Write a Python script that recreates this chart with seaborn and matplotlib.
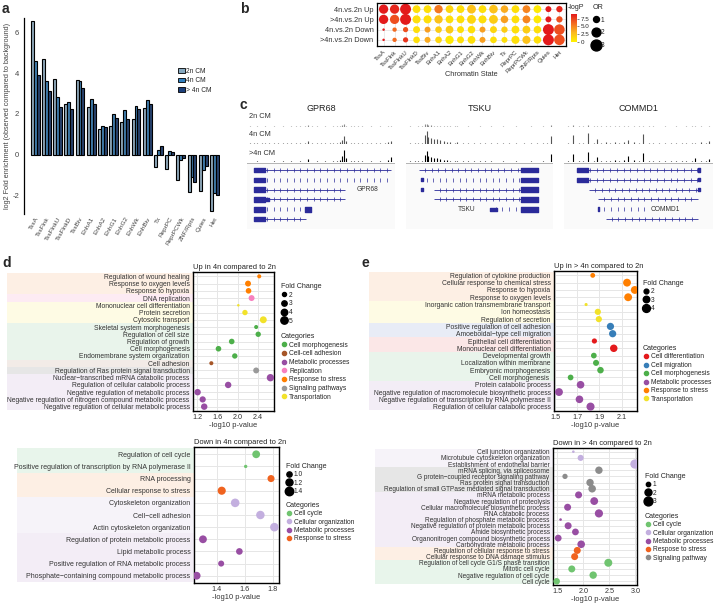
import numpy as np
import pandas as pd
import matplotlib
matplotlib.use("Agg")
import matplotlib.pyplot as plt
from matplotlib.colors import LinearSegmentedColormap, Normalize
from matplotlib.cm import ScalarMappable
from matplotlib.lines import Line2D
from matplotlib.patches import Patch
import seaborn as sns

sns.set_theme(style="white")
plt.rcParams['font.family'] = ['Liberation Sans', 'DejaVu Sans']

# ---------------- data ----------------
# a: chromatin state enrichment
states = ["TssA", "TssFlnk", "TssFlnkU", "TssFlnkD", "TssBiv", "EnhA1", "EnhA2", "EnhG1",
          "EnhG2", "EnhWk", "EnhBiv", "Tx", "ReprPC", "ReprPCWk", "ZNF/Rpts", "Quies", "Het"]
enrich_2n = [6.55, 4.68, 3.71, 2.5, 3.64, 2.36, 1.25, 1.41, 1.63, 1.76, 2.28, -0.62, -0.68, -1.25, -1.82, -1.76, -2.75]
enrich_4n = [4.6, 3.61, 2.85, 2.6, 3.63, 2.75, 1.41, 2.0, 2.2, 2.4, 2.67, 0.24, 0.21, -0.24, -1.07, -0.76, -1.87]
enrich_g4n = [3.89, 3.14, 2.36, 2.23, 3.28, 2.49, 1.38, 1.82, 1.77, 2.24, 2.47, 0.41, 0.16, -0.16, -1.33, -0.54, -1.97]
groups_a = ["2n CM", "4n CM", "> 4n CM"]

# b: DEG overlap with chromatin states
comparisons = ["4n.vs.2n Up", ">4n.vs.2n Up", "4n.vs.2n Down", ">4n.vs.2n Down"]
logp_up4 = [9, 8.5, 9, 1, 1, 5.5, 1.5, 1, 2.5, 1, 2.5, 3.5, 1, 5, 0.5, 9, 8.5]
logp_upg4 = [9, 7, 9, 1, 1, 2.5, 1, 1, 1.5, 1, 2, 4, 1, 5, 0.5, 9, 7]
logp_dn4 = [9, 6, 7, 1, 4, 2, 2, 1, 1, 4, 1.5, 2, 1, 2, 1, 9, 7]
logp_dng4 = [9, 6, 8, 1, 3.5, 1.5, 0.5, 1, 1, 4, 1, 1, 1, 2.5, 1, 9, 7]
or_up4 = [2.2, 2.2, 3.0, 1.6, 1.6, 1.8, 1.6, 1.6, 2.0, 1.6, 1.9, 1.5, 1.6, 1.6, 1.6, 1.0, 1.1]
or_upg4 = [2.2, 2.2, 3.0, 1.7, 1.7, 1.8, 1.6, 1.6, 2.0, 1.7, 2.0, 1.5, 1.6, 1.6, 1.6, 1.0, 1.1]
or_dn4 = [0.3, 0.6, 0.8, 1.3, 1.0, 1.2, 1.6, 1.3, 1.5, 1.0, 1.3, 1.1, 1.6, 1.6, 1.5, 3.0, 2.8]
or_dng4 = [0.3, 0.6, 0.8, 1.2, 1.0, 1.2, 1.8, 1.3, 1.6, 1.0, 1.2, 1.0, 1.7, 1.7, 1.5, 3.0, 2.8]

# c: browser tracks (positions are fractions of the locus window)
gpr68_pos = [0.02, 0.05, 0.07, 0.1, 0.12, 0.15, 0.18, 0.21, 0.24, 0.27, 0.3, 0.33, 0.36, 0.39, 0.41, 0.44, 0.47,
             0.5, 0.53, 0.56, 0.58, 0.61, 0.63, 0.645, 0.655, 0.67, 0.7, 0.72, 0.75, 0.78, 0.81, 0.84, 0.87, 0.9,
             0.93, 0.95, 0.975]
gpr68_2n = [0.04, 0.03, 0.05, 0.03, 0.04, 0.03, 0.05, 0.03, 0.04, 0.03, 0.05, 0.04, 0.06, 0.04, 0.12, 0.04, 0.05,
            0.03, 0.04, 0.03, 0.06, 0.04, 0.08, 0.12, 0.2, 0.08, 0.04, 0.05, 0.04, 0.06, 0.03, 0.05, 0.03, 0.04,
            0.03, 0.06, 0.1]
gpr68_4n = [0.05, 0.04, 0.06, 0.04, 0.05, 0.04, 0.06, 0.04, 0.05, 0.04, 0.06, 0.05, 0.07, 0.05, 0.22, 0.05, 0.06,
            0.04, 0.05, 0.04, 0.08, 0.05, 0.15, 0.3, 0.6, 0.2, 0.06, 0.08, 0.05, 0.1, 0.04, 0.06, 0.04, 0.05,
            0.04, 0.12, 0.25]
gpr68_g4n = [0.04, 0.03, 0.05, 0.03, 0.04, 0.03, 0.05, 0.03, 0.05, 0.04, 0.05, 0.04, 0.06, 0.04, 0.25, 0.04, 0.06,
             0.03, 0.05, 0.04, 0.1, 0.06, 0.2, 0.5, 1.0, 0.3, 0.06, 0.08, 0.05, 0.12, 0.04, 0.06, 0.04, 0.05,
             0.04, 0.15, 0.4]
tsku_pos = [0.03, 0.06, 0.08, 0.11, 0.13, 0.14, 0.15, 0.17, 0.19, 0.21, 0.23, 0.26, 0.28, 0.3, 0.33, 0.35, 0.39,
            0.42, 0.46, 0.5, 0.54, 0.58, 0.62, 0.66, 0.7, 0.75, 0.8, 0.85, 0.89, 0.93, 0.96, 0.985]
tsku_2n = [0.04, 0.03, 0.05, 0.04, 0.2, 0.25, 0.15, 0.12, 0.1, 0.1, 0.08, 0.06, 0.05, 0.05, 0.04, 0.06, 0.03,
           0.04, 0.03, 0.05, 0.03, 0.04, 0.03, 0.05, 0.03, 0.04, 0.03, 0.05, 0.03, 0.04, 0.03, 0.15]
tsku_4n = [0.08, 0.06, 0.1, 0.08, 0.7, 1.0, 0.5, 0.45, 0.4, 0.35, 0.3, 0.2, 0.18, 0.15, 0.1, 0.12, 0.07,
           0.08, 0.06, 0.1, 0.06, 0.07, 0.05, 0.1, 0.05, 0.06, 0.05, 0.08, 0.05, 0.06, 0.05, 0.6]
tsku_g4n = [0.06, 0.05, 0.08, 0.07, 0.6, 0.9, 0.45, 0.4, 0.35, 0.35, 0.25, 0.18, 0.15, 0.12, 0.08, 0.1, 0.06,
            0.06, 0.05, 0.08, 0.05, 0.06, 0.04, 0.08, 0.04, 0.05, 0.04, 0.06, 0.04, 0.05, 0.04, 0.65]
commd1_pos = [0.03, 0.06, 0.1, 0.13, 0.16, 0.2, 0.22, 0.25, 0.28, 0.31, 0.34, 0.37, 0.4, 0.43, 0.47, 0.5, 0.53,
              0.57, 0.6, 0.64, 0.68, 0.72, 0.75, 0.79, 0.82, 0.86, 0.88, 0.92, 0.95, 0.97]
commd1_2n = [0.06, 0.15, 0.05, 0.04, 0.12, 0.06, 0.05, 0.04, 0.05, 0.04, 0.05, 0.04, 0.06, 0.07, 0.05, 0.05, 0.1,
             0.04, 0.04, 0.03, 0.05, 0.03, 0.04, 0.03, 0.05, 0.04, 0.05, 0.04, 0.03, 0.05]
commd1_4n = [0.1, 0.7, 0.08, 0.06, 0.85, 0.1, 0.35, 0.1, 0.15, 0.08, 0.12, 0.1, 0.15, 0.3, 0.12, 0.1, 0.75,
             0.06, 0.08, 0.05, 0.1, 0.05, 0.06, 0.05, 0.08, 0.06, 0.1, 0.12, 0.05, 0.2]
commd1_g4n = [0.1, 0.65, 0.08, 0.06, 0.8, 0.1, 0.4, 0.1, 0.12, 0.08, 0.15, 0.12, 0.2, 0.45, 0.15, 0.12, 0.75,
              0.08, 0.1, 0.06, 0.12, 0.06, 0.08, 0.06, 0.1, 0.08, 0.3, 0.08, 0.06, 0.25]

# d: GO terms, up in 4n vs 2n
d_up_terms = ["Regulation of wound healing", "Response to oxygen levels", "Response to hypoxia", "DNA replication",
              "Mononuclear cell differentiation", "Protein secretion", "Cytosolic transport",
              "Skeletal system morphogenesis", "Regulation of cell size", "Regulation of growth",
              "Cell morphogenesis", "Endomembrane system organization", "Cell adhesion",
              "Regulation of Ras protein signal transduction", "Nuclear\u2212transcribed mRNA catabolic process",
              "Regulation of cellular catabolic process", "Negative regulation of metabolic process",
              "Negative regulation of nitrogen compound metabolic process",
              "Negative regulation of cellular metabolic process"]
d_up_cats = ["Response to stress", "Response to stress", "Response to stress", "Replication",
             "Transportation", "Transportation", "Transportation",
             "Cell morphogenesis", "Cell morphogenesis", "Cell morphogenesis", "Cell morphogenesis",
             "Cell morphogenesis", "Cell-cell adhesion", "Signaling pathways",
             "Metabolic processes", "Metabolic processes", "Metabolic processes", "Metabolic processes",
             "Metabolic processes"]
d_up_logp = [2.42, 2.2, 2.21, 2.27, 2.01, 2.14, 2.5, 2.36, 2.4, 1.88, 1.62, 1.94, 1.48, 2.36, 2.64, 1.81, 1.21, 1.31, 1.34]
d_up_fc = [2.0, 3.5, 3.2, 3.5, 1.2, 3.0, 4.5, 2.0, 3.0, 3.2, 3.2, 3.0, 2.0, 3.5, 5.0, 4.0, 4.0, 3.8, 4.0]

# d: GO terms, down in 4n vs 2n
d_dn_terms = ["Regulation of cell cycle", "Positive regulation of transcription by RNA polymerase II",
              "RNA processing", "Cellular response to stress", "Cytoskeleton organization",
              "Cell\u2212cell adhesion", "Actin cytoskeleton organization",
              "Regulation of protein metabolic process", "Lipid metabolic process",
              "Positive regulation of RNA metabolic process",
              "Phosphate\u2212containing compound metabolic process"]
d_dn_cats = ["Cell cycle", "Cell cycle", "Response to stress", "Response to stress",
             "Cellular organization", "Cellular organization", "Cellular organization",
             "Metabolic processes", "Metabolic processes", "Metabolic processes", "Metabolic processes"]
d_dn_logp = [1.68, 1.605, 1.786, 1.434, 1.53, 1.71, 1.81, 1.30, 1.56, 1.43, 1.255]
d_dn_fc = [1.3, 0.85, 1.2, 1.35, 1.42, 1.4, 1.42, 1.3, 1.15, 1.08, 1.3]

# e: GO terms, up in >4n vs 2n
e_up_terms = ["Regulation of cytokine production", "Cellular response to chemical stress", "Response to hypoxia",
              "Response to oxygen levels", "Inorganic cation transmembrane transport", "Ion homeostasis",
              "Regulation of secretion", "Positive regulation of cell adhesion",
              "Amoeboidal\u2212type cell migration", "Epithelial cell differentiation",
              "Mononuclear cell differentiation", "Developmental growth", "Localization within membrane",
              "Embryonic morphogenesis", "Cell morphogenesis ", "Protein catabolic process",
              "Negative regulation of macromolecule biosynthetic process",
              "Negative regulation of transcription by RNA polymerase II",
              "Regulation of cellular catabolic process"]
e_up_cats = ["Response to stress"] * 4 + ["Transportation"] * 3 + ["Cell migration"] * 2 + \
            ["Cell differentiation"] * 2 + ["Cell morphogenesis"] * 4 + ["Metabolic processes"] * 4
e_up_logp = [1.84, 2.15, 2.22, 2.16, 1.78, 1.886, 1.895, 2.0, 2.02, 1.855, 2.03, 1.85, 1.87, 1.91, 1.64, 1.73, 1.535, 1.72, 1.82]
e_up_fc = [2.0, 4.0, 4.0, 4.0, 1.3, 2.8, 2.8, 3.5, 3.5, 2.2, 3.7, 2.5, 2.7, 3.0, 2.5, 3.8, 4.0, 3.8, 4.2]

# e: GO terms, down in >4n vs 2n
e_dn_terms = ["Cell junction organization", "Microtubule cytoskeleton organization",
              "Establishment of endothelial barrier", "mRNA splicing, via spliceosome",
              "G protein\u2212coupled receptor signaling pathway", "Ras protein signal transduction",
              "Regulation of small GTPase mediated signal transduction", "mRNA metabolic process",
              "Negative regulation of proteolysis", "Cellular macromolecule biosynthetic process",
              "RNA catabolic process", "Regulation of phosphate metabolic process",
              "Negative regulation of protein metabolic process", "Amide biosynthetic process",
              "Organonitrogen compound biosynthetic process", "Carbohydrate metabolic process",
              "Regulation of cellular response to stress", "Cellular response to DNA damage stimulus",
              "Regulation of cell cycle G1/S phase transition", "Mitotic cell cycle",
              "Negative regulation of cell cycle", "Cell cycle"]
e_dn_cats = ["Cellular organization"] * 3 + ["Signaling pathway"] * 4 + ["Metabolic processes"] * 9 + \
            ["Respose to stress"] * 2 + ["Cell cycle"] * 4
e_dn_logp = [1.81, 1.95, 2.99, 2.30, 1.65, 2.13, 2.17, 1.91, 2.21, 1.70, 2.30, 1.565, 1.71, 1.85, 1.52, 1.96, 1.885, 1.835, 2.48, 1.78, 2.19, 1.49]
e_dn_fc = [0.6, 1.6, 3.2, 2.2, 1.3, 2.2, 2.3, 2.0, 2.4, 2.0, 2.6, 0.6, 2.0, 1.9, 1.9, 2.3, 2.0, 2.0, 2.5, 2.0, 2.2, 1.8]

# ---------------- styling ----------------
band_colors = {"Response to stress": "#fdefe4", "Respose to stress": "#fdefe4", "Replication": "#fdebf3",
               "Transportation": "#fefbe4", "Cell morphogenesis": "#e9f4eb", "Cell-cell adhesion": "#f2ebe7",
               "Signaling pathways": "#e6e6e6", "Signaling pathway": "#e6e6e6",
               "Metabolic processes": "#f3edf6", "Cell differentiation": "#fbe7e7",
               "Cell migration": "#e8ecf6", "Cell cycle": "#e8f5eb", "Cellular organization": "#f6f3f9"}
pal_set1 = {"Cell differentiation": "#e41a1c", "Cell migration": "#377eb8", "Cell morphogenesis": "#4daf4a",
            "Cell-cell adhesion": "#a65628", "Metabolic processes": "#984ea3", "Replication": "#f781bf",
            "Response to stress": "#ff7f00", "Signaling pathways": "#999999", "Transportation": "#f2e22a"}
pal_down = {"Cell cycle": "#70c470", "Cellular organization": "#c3afdf", "Metabolic processes": "#984ea3",
            "Response to stress": "#f0631f", "Respose to stress": "#f0631f", "Signaling pathway": "#8c8c8c"}

W, H = 720, 604
fig = plt.figure(figsize=(7.2, 6.04), dpi=100)


def px_axes(l, t, r, b):
    return fig.add_axes([l / W, 1 - b / H, (r - l) / W, (b - t) / H])


def fig_legend(handles, labels, title, x, y, fs=5.0, spacing=0.25):
    leg = fig.legend(handles, labels, title=title, loc="upper left",
                     bbox_to_anchor=(x / W, 1 - y / H), frameon=False, fontsize=fs,
                     title_fontsize=fs + 0.3, handletextpad=0.2, labelspacing=spacing,
                     borderpad=0, borderaxespad=0, alignment="left", handlelength=1.0)
    return leg


def panel_label(x, y, s):
    fig.text(x / W, 1 - y / H, s, fontsize=10, fontweight="bold", va="top", ha="left")


# ---------------- panel a ----------------
ax = px_axes(24, 18, 220, 214)
df_a = pd.DataFrame({
    "state": states * 3,
    "group": [groups_a[0]] * 17 + [groups_a[1]] * 17 + [groups_a[2]] * 17,
    "value": enrich_2n + enrich_4n + enrich_g4n,
})
colors_a = ["#86a9c0", "#2f7fbf", "#1c3f7a"]
sns.barplot(data=df_a, x="state", y="value", hue="group", palette=colors_a, edgecolor="black",
            linewidth=0.8, width=0.78, ax=ax, legend=False)
ax.set_xlim(-1.0, 16.5)
ax.set_ylim(-2.9, 6.7)
ax.set_yticks([-2, 0, 2, 4, 6])
ax.set_yticklabels(["-2", "0", "2", "4", "6"], fontsize=5.5, color="#444444")
ax.set_xticks(range(17))
ax.set_xticklabels(states, rotation=60, ha="right", rotation_mode="anchor", fontsize=4.6, color="#444444")
ax.tick_params(axis="both", length=2, width=0.6, pad=1.5, colors="#444444")
ax.tick_params(axis="x", length=0)
for s in ["top", "right", "bottom"]:
    ax.spines[s].set_visible(False)
ax.spines["left"].set_color("black")
ax.spines["left"].set_linewidth(0.9)
ax.set_xlabel("")
ax.set_ylabel("log2 Fold enrichment (observed compared to background)", fontsize=5.2, labelpad=1, color="#444444")
fig_legend([Patch(facecolor=c, edgecolor="black", linewidth=0.6) for c in colors_a], groups_a, None, 178, 68,
           fs=4.8, spacing=0.35)
panel_label(2, 2, "a")

# ---------------- panel b ----------------
cmap_b = LinearSegmentedColormap.from_list("yr", ["#fff200", "#fbb91f", "#f36b21", "#e31a1c"])
rows_b = []
for comp, lp, orr in zip(comparisons, [logp_up4, logp_upg4, logp_dn4, logp_dng4],
                         [or_up4, or_upg4, or_dn4, or_dng4]):
    for st, p, o in zip(states, lp, orr):
        rows_b.append((comp, st, p, o))
df_b = pd.DataFrame(rows_b, columns=["comparison", "state", "logp", "OR"])
axb = px_axes(377, 3, 566, 46)
sizes_b = (1, 62)
norm_or = (0.2, 3.0)
sns.scatterplot(data=df_b, x="state", y="comparison", hue="logp", size="OR", palette=cmap_b,
                hue_norm=(0, 9), sizes=sizes_b, size_norm=norm_or, linewidth=0, legend=False, ax=axb)
axb.set_xlim(-0.6, 16.6)
axb.set_ylim(3.6, -0.6)
axb.set_xticks(range(17))
axb.set_xticklabels(states, rotation=45, ha="right", rotation_mode="anchor", fontsize=4.3, color="#333333")
axb.set_yticks(range(4))
axb.set_yticklabels(comparisons, fontsize=5.3, color="#333333")
axb.grid(True, color="#e3e3e3", lw=0.5)
axb.set_axisbelow(True)
axb.tick_params(length=1.5, width=0.5, pad=1)
for s in axb.spines.values():
    s.set_color("black")
    s.set_linewidth(0.9)
axb.set_xlabel("Chromatin State", fontsize=5.3, labelpad=0, color="#333333")
axb.set_ylabel("")
axb.xaxis.set_label_coords(0.5, -0.58)
cax = px_axes(571, 14, 577, 42)
cb = fig.colorbar(ScalarMappable(norm=Normalize(0, 9), cmap=cmap_b), cax=cax)
cb.set_ticks([0, 2.5, 5, 7.5])
cb.set_ticklabels(["0", "2.5", "5.0", "7.5"])
cb.ax.tick_params(labelsize=4.5, length=1.5, width=0.4, pad=1)
cb.outline.set_visible(False)
fig.text(568 / W, 1 - 4 / H, "-logP", fontsize=5, va="top", ha="left")


def or_size(v):
    return sizes_b[0] + (sizes_b[1] - sizes_b[0]) * (v - norm_or[0]) / (norm_or[1] - norm_or[0])


fig_legend([Line2D([], [], marker="o", ls="", color="black", markersize=np.sqrt(or_size(v)))
            for v in [1, 2, 3]], ["1", "2", "3"], "OR", 593, 4, fs=4.8, spacing=0.85)
panel_label(240, 2, "b")

# ---------------- panel c ----------------
panel_label(240, 98, "c")
loci = [
    ("GPR68", 247, 395, gpr68_pos, [gpr68_2n, gpr68_4n, gpr68_g4n]),
    ("TSKU", 406, 553, tsku_pos, [tsku_2n, tsku_4n, tsku_g4n]),
    ("COMMD1", 564, 713, commd1_pos, [commd1_2n, commd1_4n, commd1_g4n]),
]
track_rows = [(113, 127), (130, 144), (149, 162)]
track_cols = ["#8c8c8c", "#555555", "#000000"]
for name, x0, x1, pos, sigs in loci:
    fig.text((x0 + x1) / 2 / W, 1 - 104 / H, name, fontsize=6.5, ha="center", va="top", color="#222222")
    for (t, b), sig, col in zip(track_rows, sigs, track_cols):
        tax = px_axes(x0, t, x1, b)
        tax.vlines(pos, 0, sig, color=col, lw=0.8)
        tax.axhline(0, color=col, lw=0.4)
        tax.set_xlim(0, 1)
        tax.set_ylim(0, 1.05)
        tax.axis("off")
    bar = px_axes(x0, 163, x1, 165.5)
    bar.set_facecolor("#b5b5b5")
    bar.set_xticks([])
    bar.set_yticks([])
    for s in bar.spines.values():
        s.set_visible(False)
for lab, y in [("2n CM", 113), ("4n CM", 131), (">4n CM", 150)]:
    fig.text(249 / W, 1 - y / H, lab, fontsize=5.3, va="top", ha="left", color="#333333")

navy = "#2b2b9a"
# transcripts: (row, line start, line end, exons [(start, end, height)])
gpr68_tx = [(0, 0.05, 0.97, [(0.05, 0.12, 0.45)]), (1, None, 0.97, [(0.05, 0.12, 0.45)]),
            (2, 0.05, 0.66, [(0.05, 0.12, 0.45)]), (3, 0.05, 0.66, [(0.05, 0.12, 0.45), (0.13, 0.15, 0.3)]),
            (4, None, 0.43, [(0.05, 0.12, 0.45), (0.39, 0.43, 0.45)]), (5, 0.05, 0.40, [(0.05, 0.12, 0.45)])]
tsku_tx = [(0, 0.09, 0.9, [(0.78, 0.9, 0.45)]), (1, None, 0.9, [(0.1, 0.115, 0.3), (0.78, 0.9, 0.45)]),
           (2, 0.19, 0.9, [(0.1, 0.115, 0.3), (0.78, 0.9, 0.45)]), (3, 0.19, 0.9, [(0.78, 0.9, 0.45)]),
           (4, None, 0.9, [(0.57, 0.62, 0.35), (0.78, 0.9, 0.45)])]
commd1_tx = [(0, 0.09, 0.91, [(0.09, 0.16, 0.45), (0.9, 0.915, 0.35)]),
             (1, 0.09, 0.91, [(0.09, 0.16, 0.45), (0.9, 0.915, 0.35)]),
             (2, 0.17, 0.91, [(0.9, 0.915, 0.35)]), (3, 0.23, 0.9, []),
             (4, None, 0.54, [(0.23, 0.235, 0.4)]), (5, 0.28, 0.9, [])]
gene_labels = [("GPR68", 0.74, 2), ("TSKU", 0.35, 4), ("COMMD1", 0.58, 4)]
for (name, x0, x1, _, _), txs, (gl, gx, gr) in zip(loci, [gpr68_tx, tsku_tx, commd1_tx], gene_labels):
    gax = px_axes(x0, 164, x1, 229)
    gax.set_facecolor("#fafafa")
    for row, ls, le, exons in txs:
        start = exons[0][0] if ls is None else ls
        if ls is not None:
            gax.hlines(row, ls, le, color=navy, lw=0.6)
        ticks = np.arange(start + 0.04, le, 0.045)
        gax.plot(ticks, [row] * len(ticks), ls="", marker="|", ms=2.2, mew=0.5, color=navy)
        for es, ee, h in exons:
            gax.broken_barh([(es, ee - es)], (row - h / 2, h), color=navy)
    gax.text(gx, gr, gl, fontsize=4.8, va="center", ha="left", color="#333333")
    gax.set_xlim(0, 1)
    gax.set_ylim(6.0, -0.6)
    gax.set_xticks([])
    gax.set_yticks([])
    for s in gax.spines.values():
        s.set_visible(False)


# ---------------- panels d / e ----------------
def dot_panel(box, band_x, terms, cats, logp, fc, palette, xlim, xticks, xticklabels, title,
              sizes, size_norm, fs):
    l, t, r, b = box
    n = len(terms)
    bax = px_axes(band_x, t, l, b)
    for i, c in enumerate(cats):
        bax.axhspan(i - 0.5, i + 0.5, color=band_colors[c], lw=0)
    bax.set_ylim(n - 0.4, -0.6)
    bax.set_xlim(0, 1)
    bax.axis("off")
    ax = px_axes(l, t, r, b)
    df = pd.DataFrame({"term": terms, "cat": cats, "logp": logp, "fc": fc})
    sns.scatterplot(data=df, x="logp", y="term", hue="cat", size="fc", palette=palette, sizes=sizes,
                    size_norm=size_norm, linewidth=0, legend=False, ax=ax, zorder=3)
    ax.set_ylim(n - 0.4, -0.6)
    ax.set_xlim(*xlim)
    ax.set_xticks(xticks)
    ax.set_xticklabels(xticklabels, fontsize=5.2, color="#444444")
    ax.set_yticks(range(n))
    ax.set_yticklabels(terms, fontsize=fs, color="#333333")
    ax.grid(True, color="#e6e6e6", lw=0.7)
    ax.set_axisbelow(True)
    ax.tick_params(length=1.5, width=0.5, pad=1, colors="#333333")
    for s in ax.spines.values():
        s.set_color("black")
        s.set_linewidth(1.0)
    ax.set_xlabel("-log10 p-value", fontsize=5.4, labelpad=0.5, color="#333333")
    ax.set_ylabel("")
    ax.set_title(title, fontsize=5.4, loc="left", pad=2, color="#222222")
    return ax


def size_of(v, sizes, norm):
    return sizes[0] + (sizes[1] - sizes[0]) * (v - norm[0]) / (norm[1] - norm[0])


def cat_handles(cats, pal):
    return [Line2D([], [], marker="o", ls="", color=pal[c], markersize=3) for c in cats]


# d top
sz, nm = (2, 28), (1.0, 5.0)
dot_panel((193, 272, 274, 411), 7, d_up_terms, d_up_cats, d_up_logp, d_up_fc, pal_set1,
          (1.12, 2.71), [1.2, 1.6, 2.0, 2.4], ["1.2", "1.6", "2.0", "2.4"],
          "Up in 4n compared to 2n", sz, nm, 4.9)
fig_legend([Line2D([], [], marker="o", ls="", color="black", markersize=np.sqrt(size_of(v, sz, nm)))
            for v in [2, 3, 4, 5]], ["2", "3", "4", "5"], "Fold Change", 281, 283, fs=4.8, spacing=0.25)
cats_d_up = ["Cell morphogenesis", "Cell-cell adhesion", "Metabolic processes", "Replication",
             "Response to stress", "Signaling pathways", "Transportation"]
fig_legend(cat_handles(cats_d_up, pal_set1), cats_d_up, "Categories", 281, 333, fs=4.8, spacing=0.25)
panel_label(2, 256, "d")

# d bottom
sz2, nm2 = (3, 40), (0.8, 1.45)
dot_panel((194, 447, 279, 583), 17, d_dn_terms, d_dn_cats, d_dn_logp, d_dn_fc, pal_down,
          (1.236, 1.843), [1.4, 1.6, 1.8], ["1.4", "1.6", "1.8"],
          "Down in 4n compared to 2n", sz2, nm2, 5.0)
fig_legend([Line2D([], [], marker="o", ls="", color="black", markersize=np.sqrt(size_of(v, sz2, nm2)))
            for v in [1.0, 1.2, 1.4]], ["1.0", "1.2", "1.4"], "Fold Change", 286, 463, fs=4.8, spacing=0.2)
cats_d_dn = ["Cell cycle", "Cellular organization", "Metabolic processes", "Response to stress"]
fig_legend(cat_handles(cats_d_dn, pal_down), cats_d_dn, "Categories", 286, 502, fs=4.8, spacing=0.2)

# e top
sz3, nm3 = (2, 34), (1.0, 4.2)
dot_panel((554, 271, 637, 411), 369, e_up_terms, e_up_cats, e_up_logp, e_up_fc, pal_set1,
          (1.49, 2.24), [1.5, 1.7, 1.9, 2.1], ["1.5", "1.7", "1.9", "2.1"],
          "Up in > 4n compared to 2n", sz3, nm3, 4.9)
fig_legend([Line2D([], [], marker="o", ls="", color="black", markersize=np.sqrt(size_of(v, sz3, nm3)))
            for v in [2, 3, 4]], ["2", "3", "4"], "Fold Change", 643, 280, fs=4.8, spacing=0.2)
cats_e_up = ["Cell differentiation", "Cell migration", "Cell morphogenesis", "Metabolic processes",
             "Response to stress", "Transportation"]
fig_legend(cat_handles(cats_e_up, pal_set1), cats_e_up, "Categories", 643, 345, fs=4.8, spacing=0.22)
panel_label(362, 256, "e")

# e bottom
sz4, nm4 = (2, 44), (0.5, 3.2)
dot_panel((553, 448, 637, 585), 375, e_dn_terms, e_dn_cats, e_dn_logp, e_dn_fc, pal_down,
          (1.42, 3.03), [1.5, 2.0, 2.5, 3.0], ["1.5", "2.0", "2.5", "3.0"],
          "Down in > 4n compared to 2n", sz4, nm4, 4.7)
fig_legend([Line2D([], [], marker="o", ls="", color="black", markersize=np.sqrt(size_of(v, sz4, nm4)))
            for v in [1, 2, 3]], ["1", "2", "3"], "Fold Change", 645, 473, fs=4.8, spacing=0.2)
cats_e_dn = ["Cell cycle", "Cellular organization", "Metabolic processes", "Respose to stress", "Signaling pathway"]
fig_legend(cat_handles(cats_e_dn, pal_down), cats_e_dn, "Categories", 645, 513, fs=4.8, spacing=0.2)

fig.savefig("out.png", dpi=100, facecolor="white")
